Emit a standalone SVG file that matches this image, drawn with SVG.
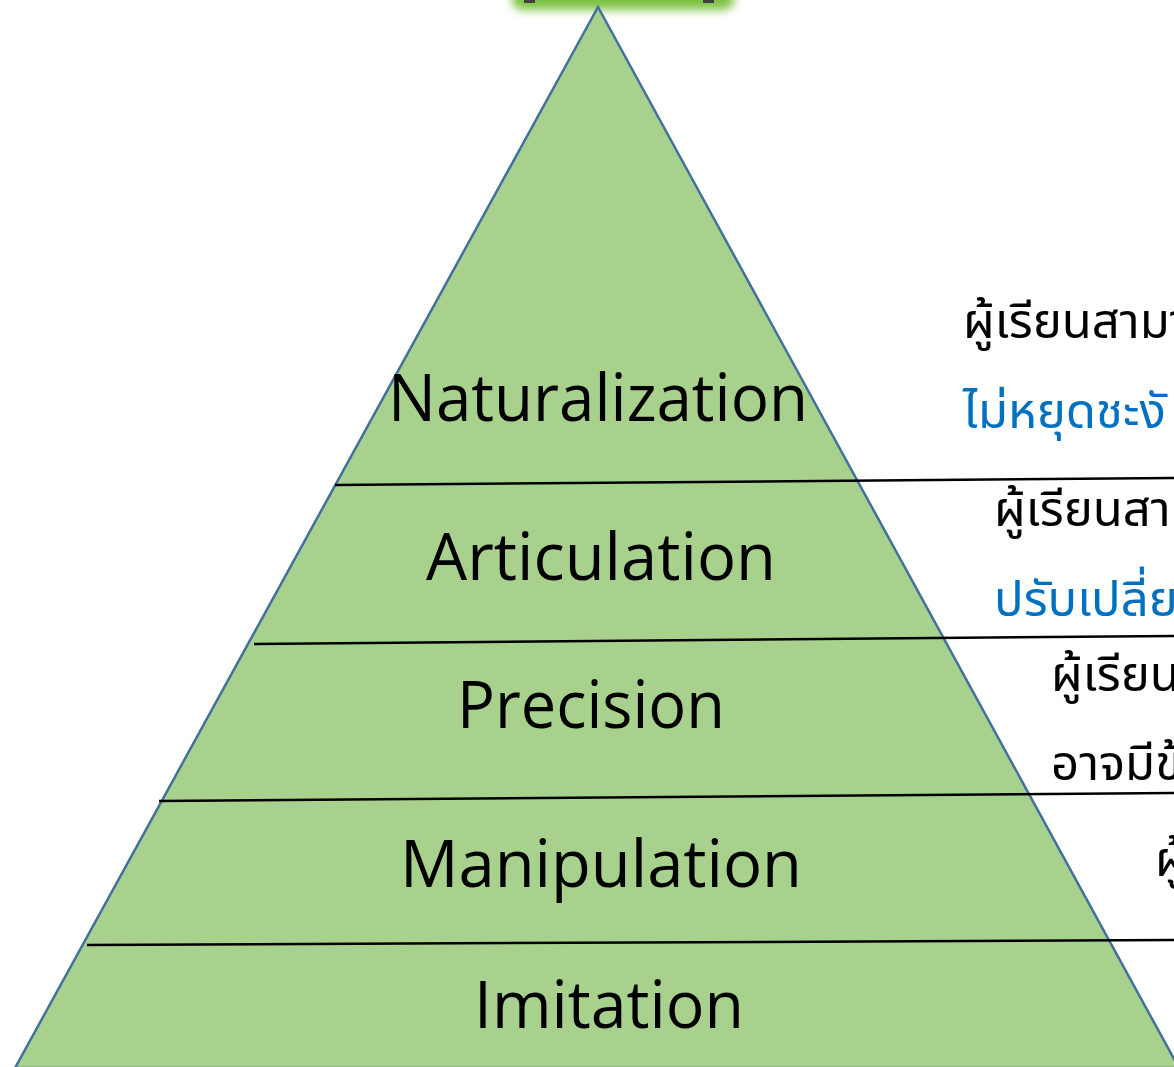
<svg xmlns="http://www.w3.org/2000/svg" width="1174" height="1067" viewBox="0 0 1174 1067">
<defs>
<style>
.lvl{font-family:"Open Sans","Liberation Sans",sans-serif;font-size:66px;fill:#000;text-anchor:middle}
.th{font-family:"Noto Sans","Noto Sans Thai","DejaVu Sans",sans-serif;font-size:49px;fill:#000}
.bl{fill:#0070C0}
.sep{stroke:#000;stroke-width:2.5;fill:none}
</style>
<filter id="glow" x="-20%" y="-200%" width="140%" height="500%"><feGaussianBlur stdDeviation="5"/></filter>
</defs>
<rect width="1174" height="1067" fill="#fff"/>
<g id="title-glow">
<rect x="512" y="-16" width="222" height="26" rx="10" fill="#7DC243" filter="url(#glow)"/>
<rect x="524" y="-4" width="11" height="7" fill="#404040"/>
<rect x="703" y="-4" width="11" height="7" fill="#404040"/>
</g>
<g id="pyramid">
<polygon points="598,7 15,1068 1179,1068" fill="#A9D18E" stroke="#41719C" stroke-width="2.5" stroke-linejoin="miter"/>
</g>
<g id="connectors">
<line class="sep" x1="335" y1="485" x2="1174" y2="478"/>
<line class="sep" x1="254" y1="644" x2="1174" y2="636"/>
<line class="sep" x1="159" y1="801" x2="1174" y2="793"/>
<line class="sep" x1="87" y1="945" x2="1174" y2="940"/>
</g>
<g id="naturalization"><text class="lvl" x="598" y="421" textLength="420" lengthAdjust="spacingAndGlyphs">Naturalization</text></g>
<g id="articulation"><text class="lvl" x="601" y="580" textLength="350" lengthAdjust="spacingAndGlyphs">Articulation</text></g>
<g id="precision"><text class="lvl" x="591" y="728" textLength="268" lengthAdjust="spacingAndGlyphs">Precision</text></g>
<g id="manipulation"><text class="lvl" x="601" y="887" textLength="402" lengthAdjust="spacingAndGlyphs">Manipulation</text></g>
<g id="imitation"><text class="lvl" x="609" y="1028" textLength="270" lengthAdjust="spacingAndGlyphs">Imitation</text></g>
<g id="desc-naturalization">
<text class="th" x="963" y="338">ผู้เรียนสามา</text>
<text class="th bl" x="963" y="428">ไม่หยุดชะงั</text>
</g>
<g id="desc-articulation">
<text class="th" x="994" y="526">ผู้เรียนสา</text>
<text class="th bl" x="994" y="616">ปรับเปลี่ย</text>
</g>
<g id="desc-precision">
<text class="th" x="1051" y="691">ผู้เรียน</text>
<text class="th" x="1051" y="780">อาจมีข้</text>
</g>
<g id="desc-manipulation">
<text class="th" x="1155" y="876">ผู้</text>
</g>
</svg>
